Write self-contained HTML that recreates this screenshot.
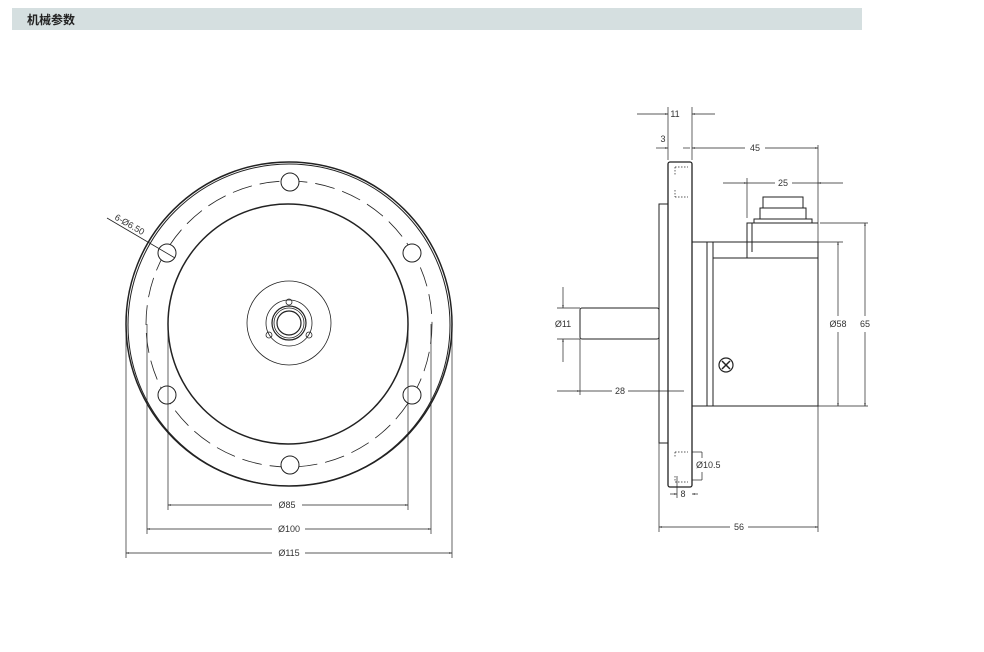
<!DOCTYPE html>
<html><head><meta charset="utf-8"><style>
html,body{margin:0;padding:0;background:#fff;width:984px;height:652px;overflow:hidden}
.hdr{position:absolute;left:12px;top:8px;width:850px;height:22px;background:#d5dfe0}
.hdr span{position:absolute;left:15px;top:3px;font:bold 12px "Liberation Sans","Noto Sans CJK SC",sans-serif;color:#222}
svg{position:absolute;left:0;top:0}
text{font-family:"Liberation Sans",sans-serif;font-size:9px;fill:#333}
</style></head><body>
<div class="hdr"><span>机械参数</span></div>
<svg width="984" height="652" viewBox="0 0 984 652">
<defs><marker id="a" viewBox="0 0 10 10" refX="10" refY="5" markerWidth="6" markerHeight="4" orient="auto-start-reverse"><path d="M0,2 L10,5 L0,8z" fill="#333"/></marker></defs>
<g fill="none" stroke="#222" stroke-width="1">
<!-- left view -->
<ellipse cx="289" cy="324" rx="163" ry="162" stroke-width="1.5"/>
<ellipse cx="289" cy="325" rx="161" ry="161"/>
<circle cx="288" cy="324" r="120" stroke-width="1.5"/>
<circle cx="289" cy="324" r="143" stroke-dasharray="20 8" stroke-width="0.8"/>
<circle cx="290" cy="182" r="9" fill="#fff"/>
<circle cx="167" cy="253" r="9" fill="#fff"/>
<circle cx="412" cy="253" r="9" fill="#fff"/>
<circle cx="167" cy="395" r="9" fill="#fff"/>
<circle cx="412" cy="395" r="9" fill="#fff"/>
<circle cx="290" cy="465" r="9" fill="#fff"/>
<circle cx="289" cy="323" r="42" stroke-width="0.8"/>
<circle cx="289" cy="323" r="23" stroke-width="0.8"/>
<circle cx="289" cy="323" r="17" stroke-width="1.2"/>
<circle cx="289" cy="323" r="15" stroke-width="0.8"/>
<circle cx="289" cy="323" r="12" stroke-width="1.2"/>
<circle cx="289" cy="302" r="3" stroke-width="0.8"/>
<circle cx="269" cy="335" r="3" stroke-width="0.8"/>
<circle cx="309" cy="335" r="3" stroke-width="0.8"/>
<line x1="107" y1="218" x2="175" y2="258" stroke-width="0.8"/>
<g stroke-width="0.7">
<line x1="168" y1="324" x2="168" y2="510"/><line x1="408" y1="324" x2="408" y2="510"/>
<line x1="147" y1="324" x2="147" y2="534"/><line x1="431" y1="324" x2="431" y2="534"/>
<line x1="126" y1="324" x2="126" y2="558"/><line x1="452" y1="324" x2="452" y2="558"/>
<line x1="272" y1="505" x2="168" y2="505" marker-end="url(#a)"/><line x1="302" y1="505" x2="408" y2="505" marker-end="url(#a)"/>
<line x1="272" y1="529" x2="147" y2="529" marker-end="url(#a)"/><line x1="305" y1="529" x2="431" y2="529" marker-end="url(#a)"/>
<line x1="272" y1="553" x2="126" y2="553" marker-end="url(#a)"/><line x1="305" y1="553" x2="452" y2="553" marker-end="url(#a)"/>
</g>
<!-- right view -->
<rect x="580" y="308" width="79" height="31" rx="2"/>
<rect x="659" y="204" width="9" height="239"/>
<rect x="668" y="162" width="24" height="325" rx="2" fill="#fff" stroke-width="1.3"/>
<rect x="692" y="242" width="15" height="164"/>
<rect x="707" y="242" width="6" height="164"/>
<path d="M713,242 L818,242 L818,406 L713,406Z"/>
<line x1="713" y1="258" x2="818" y2="258"/>
<path d="M747,258 L747,223 L818,223"/>
<line x1="752" y1="223" x2="752" y2="252"/>
<rect x="754" y="219" width="58" height="4"/>
<rect x="760" y="208" width="46" height="11"/>
<rect x="763" y="197" width="40" height="11"/>
<circle cx="726" cy="365" r="7" stroke-width="1.2"/>
<path d="M722,361 L730,369 M730,361 L722,369" stroke-width="1.5"/>
<g stroke-dasharray="1.5 1.5" stroke-width="0.7">
<line x1="675" y1="167" x2="688" y2="167"/><line x1="675" y1="197" x2="688" y2="197"/>
<line x1="675" y1="452" x2="688" y2="452"/><line x1="675" y1="482" x2="688" y2="482"/>
<line x1="675" y1="167" x2="675" y2="175"/><line x1="675" y1="190" x2="675" y2="197"/>
<line x1="675" y1="452" x2="675" y2="458"/><line x1="675" y1="476" x2="675" y2="482"/>
</g>
<g stroke-width="0.7">
<line x1="668" y1="107" x2="668" y2="160"/><line x1="692" y1="107" x2="692" y2="160"/>
<line x1="637" y1="114" x2="668" y2="114" marker-end="url(#a)"/><line x1="715" y1="114" x2="692" y2="114" marker-end="url(#a)"/>
<line x1="656" y1="148" x2="668" y2="148" marker-end="url(#a)"/><line x1="683" y1="148" x2="690" y2="148"/>
<line x1="745" y1="148" x2="692" y2="148" marker-end="url(#a)"/><line x1="765" y1="148" x2="818" y2="148" marker-end="url(#a)"/>
<line x1="818" y1="145" x2="818" y2="532"/>
<line x1="747" y1="178" x2="747" y2="218"/>
<line x1="723" y1="183" x2="747" y2="183" marker-end="url(#a)"/><line x1="843" y1="183" x2="818" y2="183" marker-end="url(#a)"/>
<line x1="747" y1="183" x2="775" y2="183"/><line x1="792" y1="183" x2="818" y2="183"/>
<line x1="818" y1="242" x2="843" y2="242"/><line x1="818" y1="406" x2="868" y2="406"/>
<line x1="820" y1="223" x2="868" y2="223"/>
<line x1="838" y1="316" x2="838" y2="242" marker-end="url(#a)"/><line x1="838" y1="332" x2="838" y2="406" marker-end="url(#a)"/>
<line x1="865" y1="316" x2="865" y2="223" marker-end="url(#a)"/><line x1="865" y1="332" x2="865" y2="406" marker-end="url(#a)"/>
<line x1="557" y1="308" x2="580" y2="308"/><line x1="557" y1="339" x2="580" y2="339"/>
<line x1="563" y1="287" x2="563" y2="308" marker-end="url(#a)"/><line x1="563" y1="362" x2="563" y2="339" marker-end="url(#a)"/>
<line x1="580" y1="339" x2="580" y2="395"/>
<line x1="557" y1="391" x2="580" y2="391" marker-end="url(#a)"/><line x1="580" y1="391" x2="612" y2="391"/>
<line x1="628" y1="391" x2="684" y2="391"/>
<line x1="692" y1="452" x2="702" y2="452"/><line x1="692" y1="480" x2="702" y2="480"/>
<line x1="702" y1="452" x2="702" y2="458"/><line x1="702" y1="472" x2="702" y2="480"/>
<line x1="677" y1="476" x2="677" y2="498"/>
<line x1="670" y1="494" x2="677" y2="494" marker-end="url(#a)"/><line x1="698" y1="494" x2="692" y2="494" marker-end="url(#a)"/>
<line x1="659" y1="443" x2="659" y2="532"/>
<line x1="730" y1="527" x2="659" y2="527" marker-end="url(#a)"/><line x1="748" y1="527" x2="818" y2="527" marker-end="url(#a)"/>
</g>
</g>
<text x="287" y="508" text-anchor="middle">Ø85</text>
<text x="289" y="532" text-anchor="middle">Ø100</text>
<text x="289" y="556" text-anchor="middle">Ø115</text>
<text x="114" y="219" transform="rotate(30 114 219)">6-Ø6.50</text>
<text x="675" y="117" text-anchor="middle">11</text>
<text x="663" y="142" text-anchor="middle">3</text>
<text x="755" y="151" text-anchor="middle">45</text>
<text x="783" y="186" text-anchor="middle">25</text>
<text x="838" y="327" text-anchor="middle">Ø58</text>
<text x="865" y="327" text-anchor="middle">65</text>
<text x="563" y="327" text-anchor="middle">Ø11</text>
<text x="620" y="394" text-anchor="middle">28</text>
<text x="696" y="468">Ø10.5</text>
<text x="683" y="497" text-anchor="middle">8</text>
<text x="739" y="530" text-anchor="middle">56</text>
</svg>
</body></html>
